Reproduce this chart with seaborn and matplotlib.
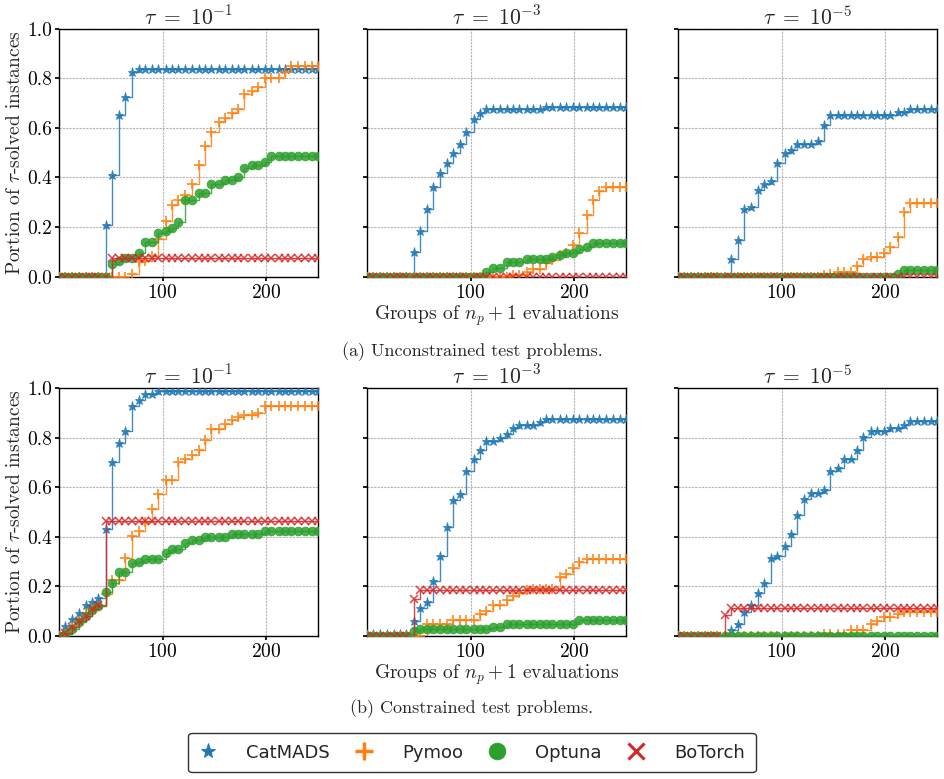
import numpy as np
import pandas as pd
import matplotlib
matplotlib.use("Agg")
import matplotlib.pyplot as plt
from matplotlib.lines import Line2D
import seaborn as sns

# ---------------- data ----------------
groups = [0, 6, 13, 19, 26, 32, 38, 45, 51, 58, 64, 70, 77, 83, 90, 96, 103, 109, 115, 122,
          128, 135, 141, 147, 154, 160, 167, 173, 179, 186, 192, 199, 205, 212, 218, 224, 231, 237, 244, 250]

solvers = ["CatMADS", "Pymoo", "Optuna", "BoTorch"]
tau_titles = [r"$\tau\ =\ 10^{-1}$", r"$\tau\ =\ 10^{-3}$", r"$\tau\ =\ 10^{-5}$"]
captions = ["(a) Unconstrained test problems.", "(b) Constrained test problems."]
x_ticks = [100, 200]
y_ticks = [0.0, 0.2, 0.4, 0.6, 0.8, 1.0]

# Unconstrained, tau = 1e-1
u1_catmads = [0, 0, 0, 0, 0, 0, 0, 0.21, 0.41, 0.65, 0.724, 0.824, 0.838, 0.838, 0.838, 0.838, 0.838, 0.838, 0.838, 0.838,
              0.838, 0.838, 0.838, 0.838, 0.838, 0.838, 0.838, 0.838, 0.838, 0.838, 0.838, 0.838, 0.838, 0.838, 0.838, 0.838, 0.838, 0.838, 0.838, 0.838]
u1_pymoo = [0, 0, 0, 0, 0, 0, 0, 0, 0, 0, 0, 0.01, 0.06, 0.065, 0.085, 0.15, 0.225, 0.29, 0.31, 0.33,
            0.375, 0.45, 0.525, 0.585, 0.625, 0.64, 0.66, 0.675, 0.735, 0.75, 0.765, 0.80, 0.80, 0.80, 0.825, 0.848, 0.848, 0.848, 0.848, 0.848]
u1_optuna = [0, 0, 0, 0, 0, 0, 0, 0, 0.05, 0.063, 0.075, 0.075, 0.095, 0.138, 0.138, 0.175, 0.185, 0.197, 0.222, 0.31,
             0.31, 0.338, 0.338, 0.375, 0.375, 0.388, 0.388, 0.40, 0.437, 0.45, 0.45, 0.462, 0.488, 0.488, 0.488, 0.488, 0.488, 0.488, 0.488, 0.488]
u1_botorch = [0, 0, 0, 0, 0, 0, 0, 0, 0.075, 0.075, 0.075, 0.075, 0.075, 0.075, 0.075, 0.075, 0.075, 0.075, 0.075, 0.075,
              0.075, 0.075, 0.075, 0.075, 0.075, 0.075, 0.075, 0.075, 0.075, 0.075, 0.075, 0.075, 0.075, 0.075, 0.075, 0.075, 0.075, 0.075, 0.075, 0.075]

# Unconstrained, tau = 1e-3
u2_catmads = [0, 0, 0, 0, 0, 0, 0, 0.1, 0.186, 0.272, 0.36, 0.42, 0.46, 0.50, 0.536, 0.585, 0.637, 0.66, 0.675, 0.675,
              0.675, 0.675, 0.675, 0.675, 0.675, 0.675, 0.675, 0.686, 0.686, 0.686, 0.686, 0.686, 0.686, 0.686, 0.686, 0.686, 0.686, 0.686, 0.686, 0.686]
u2_pymoo = [0, 0, 0, 0, 0, 0, 0, 0, 0, 0, 0, 0, 0, 0, 0, 0, 0, 0, 0, 0,
            0, 0, 0.007, 0.007, 0.02, 0.033, 0.033, 0.054, 0.067, 0.087, 0.094, 0.128, 0.175, 0.25, 0.31, 0.347, 0.36, 0.36, 0.36, 0.36]
u2_optuna = [0, 0, 0, 0, 0, 0, 0, 0, 0, 0, 0, 0, 0, 0, 0, 0, 0, 0, 0.02, 0.034,
             0.034, 0.058, 0.058, 0.06, 0.071, 0.071, 0.071, 0.071, 0.078, 0.087, 0.097, 0.097, 0.11, 0.121, 0.135, 0.135, 0.135, 0.135, 0.135, 0.135]
u2_botorch = [0, 0, 0, 0, 0, 0, 0, 0, 0, 0, 0, 0, 0, 0, 0, 0, 0, 0, 0, 0,
              0, 0, 0, 0, 0, 0, 0, 0, 0, 0, 0, 0, 0, 0, 0, 0, 0, 0, 0, 0]

# Unconstrained, tau = 1e-5
u3_catmads = [0, 0, 0, 0, 0, 0, 0, 0, 0.07, 0.148, 0.272, 0.283, 0.348, 0.373, 0.384, 0.46, 0.498, 0.512, 0.536, 0.536,
              0.536, 0.548, 0.613, 0.65, 0.65, 0.65, 0.65, 0.65, 0.65, 0.65, 0.65, 0.65, 0.65, 0.664, 0.664, 0.676, 0.676, 0.676, 0.676, 0.676]
u3_pymoo = [0, 0, 0, 0, 0, 0, 0, 0, 0, 0, 0, 0, 0, 0, 0, 0, 0, 0, 0, 0,
            0, 0, 0.008, 0.01, 0.02, 0.02, 0.02, 0.044, 0.07, 0.08, 0.08, 0.094, 0.118, 0.159, 0.26, 0.296, 0.296, 0.296, 0.296, 0.296]
u3_optuna = [0, 0, 0, 0, 0, 0, 0, 0, 0, 0, 0, 0, 0, 0, 0, 0, 0, 0, 0, 0,
             0, 0, 0, 0, 0, 0, 0, 0, 0, 0, 0, 0, 0, 0.012, 0.025, 0.025, 0.025, 0.025, 0.025, 0.025]
u3_botorch = [0, 0, 0, 0, 0, 0, 0, 0, 0, 0, 0, 0, 0, 0, 0, 0, 0, 0, 0, 0,
              0, 0, 0, 0, 0, 0, 0, 0, 0, 0, 0, 0, 0, 0, 0, 0, 0, 0, 0, 0]

# Constrained, tau = 1e-1
c1_catmads = [0, 0.041, 0.068, 0.091, 0.125, 0.138, 0.152, 0.431, 0.702, 0.778, 0.826, 0.926, 0.953, 0.977, 0.977, 0.988, 0.988, 0.988, 0.988, 0.988,
              0.988, 0.988, 0.988, 0.988, 0.988, 0.988, 0.988, 0.988, 0.988, 0.988, 0.988, 0.988, 0.988, 0.988, 0.988, 0.988, 0.988, 0.988, 0.988, 0.988]
c1_pymoo = [0, 0.01, 0.035, 0.06, 0.09, 0.11, 0.12, 0.17, 0.224, 0.224, 0.313, 0.404, 0.424, 0.46, 0.514, 0.574, 0.628, 0.628, 0.702, 0.715,
            0.729, 0.749, 0.789, 0.836, 0.836, 0.854, 0.87, 0.883, 0.893, 0.893, 0.90, 0.926, 0.926, 0.926, 0.926, 0.926, 0.926, 0.926, 0.926, 0.926]
c1_optuna = [0, 0.008, 0.03, 0.055, 0.08, 0.105, 0.12, 0.179, 0.212, 0.259, 0.259, 0.295, 0.30, 0.309, 0.309, 0.309, 0.336, 0.35, 0.35, 0.373,
             0.387, 0.387, 0.40, 0.40, 0.40, 0.40, 0.413, 0.413, 0.413, 0.413, 0.413, 0.424, 0.424, 0.424, 0.424, 0.424, 0.424, 0.424, 0.424, 0.424]
c1_botorch = [0, 0.014, 0.038, 0.061, 0.081, 0.11, 0.124, 0.462, 0.462, 0.462, 0.462, 0.462, 0.462, 0.462, 0.462, 0.462, 0.462, 0.462, 0.462, 0.462,
              0.462, 0.462, 0.462, 0.462, 0.462, 0.462, 0.462, 0.462, 0.462, 0.462, 0.462, 0.462, 0.462, 0.462, 0.462, 0.462, 0.462, 0.462, 0.462, 0.462]

# Constrained, tau = 1e-3
c2_catmads = [0.01, 0.01, 0.01, 0.01, 0.01, 0.01, 0.01, 0.062, 0.111, 0.138, 0.223, 0.323, 0.438, 0.55, 0.574, 0.664, 0.713, 0.749, 0.787, 0.787,
              0.80, 0.816, 0.839, 0.852, 0.852, 0.852, 0.863, 0.877, 0.877, 0.877, 0.877, 0.877, 0.877, 0.877, 0.877, 0.877, 0.877, 0.877, 0.877, 0.877]
c2_pymoo = [0, 0, 0, 0, 0, 0, 0, 0, 0, 0.048, 0.048, 0.048, 0.048, 0.064, 0.064, 0.064, 0.064, 0.087, 0.102, 0.125,
            0.125, 0.145, 0.161, 0.174, 0.185, 0.188, 0.188, 0.188, 0.188, 0.239, 0.252, 0.276, 0.30, 0.31, 0.31, 0.31, 0.31, 0.31, 0.31, 0.31]
c2_optuna = [0, 0, 0, 0, 0, 0, 0, 0.021, 0.027, 0.027, 0.027, 0.027, 0.027, 0.027, 0.027, 0.027, 0.027, 0.027, 0.03, 0.038,
             0.038, 0.048, 0.048, 0.048, 0.048, 0.048, 0.048, 0.048, 0.048, 0.048, 0.048, 0.048, 0.063, 0.063, 0.063, 0.063, 0.063, 0.063, 0.063, 0.063]
c2_botorch = [0, 0, 0, 0, 0, 0, 0, 0.15, 0.185, 0.185, 0.185, 0.185, 0.185, 0.185, 0.185, 0.185, 0.185, 0.185, 0.185, 0.185,
              0.185, 0.185, 0.185, 0.185, 0.185, 0.185, 0.185, 0.185, 0.185, 0.185, 0.185, 0.185, 0.185, 0.185, 0.185, 0.185, 0.185, 0.185, 0.185, 0.185]

# Constrained, tau = 1e-5
c3_catmads = [0, 0, 0, 0, 0, 0, 0, 0, 0.024, 0.048, 0.098, 0.125, 0.174, 0.212, 0.313, 0.323, 0.362, 0.413, 0.487, 0.552,
              0.577, 0.577, 0.59, 0.666, 0.678, 0.715, 0.715, 0.752, 0.803, 0.827, 0.827, 0.827, 0.839, 0.839, 0.852, 0.866, 0.866, 0.866, 0.866, 0.866]
c3_pymoo = [0, 0, 0, 0, 0, 0, 0, 0, 0, 0, 0, 0, 0, 0, 0, 0, 0, 0, 0, 0,
            0, 0, 0.01, 0.01, 0.01, 0.01, 0.024, 0.024, 0.024, 0.048, 0.062, 0.075, 0.075, 0.087, 0.098, 0.098, 0.098, 0.098, 0.098, 0.098]
c3_optuna = [0, 0, 0, 0, 0, 0, 0, 0, 0, 0, 0, 0, 0, 0, 0, 0, 0, 0, 0, 0,
             0, 0, 0, 0, 0, 0, 0, 0, 0, 0, 0, 0, 0, 0, 0, 0, 0, 0, 0, 0]
c3_botorch = [0, 0, 0, 0, 0, 0, 0, 0.085, 0.111, 0.111, 0.111, 0.111, 0.111, 0.111, 0.111, 0.111, 0.111, 0.111, 0.111, 0.111,
              0.111, 0.111, 0.111, 0.111, 0.111, 0.111, 0.111, 0.111, 0.111, 0.111, 0.111, 0.111, 0.111, 0.111, 0.111, 0.111, 0.111, 0.111, 0.111, 0.111]

panels = [
    [(u1_catmads, u1_pymoo, u1_optuna, u1_botorch),
     (u2_catmads, u2_pymoo, u2_optuna, u2_botorch),
     (u3_catmads, u3_pymoo, u3_optuna, u3_botorch)],
    [(c1_catmads, c1_pymoo, c1_optuna, c1_botorch),
     (c2_catmads, c2_pymoo, c2_optuna, c2_botorch),
     (c3_catmads, c3_pymoo, c3_optuna, c3_botorch)],
]

# ---------------- style ----------------
sns.set_theme(style="whitegrid")
plt.rcParams.update({
    "font.family": ["cmr10", "DejaVu Serif"],
    "mathtext.fontset": "cm",
    "axes.formatter.use_mathtext": True,
    "axes.edgecolor": "black",
    "axes.linewidth": 1.0,
    "axes.unicode_minus": False,
    "grid.color": "#b5b5b5",
    "grid.linestyle": (0, (2.0, 1.0)),
    "grid.linewidth": 0.8,
    "xtick.bottom": True,
    "ytick.left": True,
    "xtick.major.size": 3,
    "ytick.major.size": 3,
    "xtick.color": "black",
    "ytick.color": "black",
})

palette = sns.color_palette("tab10", 4)
markers = ["*", "+", "o", "x"]
msizes = [6.5, 7, 6.3, 5.5]
mews = [0.6, 1.3, 0.6, 1.1]

fig = plt.figure(figsize=(9.44, 7.79), dpi=100)
lefts = [59 / 944, 367 / 944, 678 / 944]
width = 259 / 944
bottoms = [1 - 276.7 / 779, 1 - 636.0 / 779]
height = 248.0 / 779

for r in range(2):
    for c in range(3):
        ax = fig.add_axes([lefts[c], bottoms[r], width, height])
        series = panels[r][c]
        for i, name in enumerate(solvers):
            df = pd.DataFrame({"group": groups, "portion": series[i]})
            sns.lineplot(data=df, x="group", y="portion", ax=ax, color=palette[i],
                         drawstyle="steps-post", marker=markers[i], markersize=msizes[i],
                         markeredgewidth=mews[i], markeredgecolor=palette[i],
                         linewidth=1.0, alpha=0.85, estimator=None, sort=False, zorder=3 + i)
        ax.set_xlim(0, 250)
        ax.set_ylim(0, 1.0)
        ax.set_xticks(x_ticks)
        ax.set_yticks(y_ticks)
        ax.tick_params(axis="both", labelsize=14, pad=2)
        ax.grid(True)
        ax.set_title(tau_titles[c], fontsize=15.5, pad=2)
        for s in ax.spines.values():
            s.set_color("black")
            s.set_linewidth(1.0)
        if c == 0:
            ax.set_yticklabels([f"{v:.1f}" for v in y_ticks])
            ax.set_ylabel(r"Portion of $\tau$-solved instances", fontsize=14, labelpad=2)
        else:
            ax.set_yticklabels([])
            ax.set_ylabel("")
        if c == 1:
            ax.set_xlabel(r"Groups of $n_p + 1$ evaluations", fontsize=14, labelpad=1)
        else:
            ax.set_xlabel("")

fig.text(0.5, 1 - 352 / 779, captions[0], ha="center", va="center", fontsize=13)
fig.text(0.5, 1 - 709 / 779, captions[1], ha="center", va="center", fontsize=13)

handles = [Line2D([], [], linestyle="", marker=markers[i], color=palette[i],
                  markersize=[11, 13, 12, 11][i], markeredgewidth=[0.6, 2.5, 0.6, 2.2][i])
           for i in range(4)]
leg = fig.legend(handles, solvers, loc="center", bbox_to_anchor=(0.5, 1 - 752.5 / 779),
                 ncol=4, frameon=True, fancybox=True, handlelength=1.0, handletextpad=1.6,
                 columnspacing=1.4, borderpad=0.6,
                 prop={"family": "DejaVu Sans", "size": 13})
leg.get_frame().set_edgecolor("black")
leg.get_frame().set_linewidth(1.0)

fig.savefig("out.png", dpi=100)
